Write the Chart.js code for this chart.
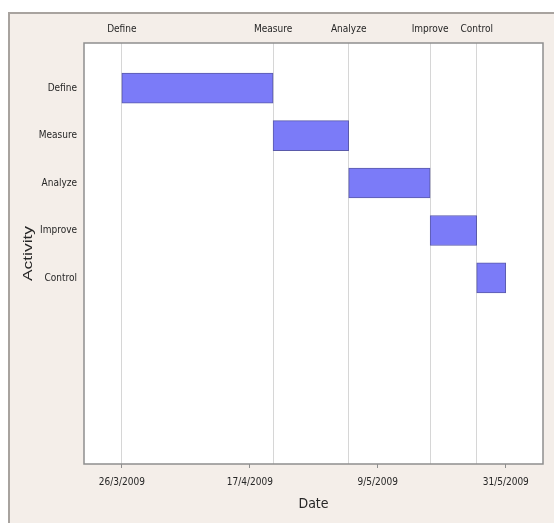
<!DOCTYPE html>
<html>
<head>
<meta charset="utf-8">
<title>Gantt chart – DMAIC</title>
<script src="https://cdn.jsdelivr.net/npm/chart.js@4.4.1/dist/chart.umd.min.js"></script>
<style>
  html, body { margin: 0; padding: 0; background: #ffffff; }
  #wrap { width: 554px; height: 528px; }
</style>
</head>
<body>
<div id="wrap"><canvas id="gantt" width="554" height="528"></canvas></div>
<script>
// Project phases and their scheduled dates (d/m/yyyy)
const activities = ['Define', 'Measure', 'Analyze', 'Improve', 'Control'];
const startDates = ['26/3/2009', '21/4/2009', '4/5/2009', '18/5/2009', '26/5/2009'];
const endDates   = ['21/4/2009', '4/5/2009', '18/5/2009', '26/5/2009', '31/5/2009'];
// Dates labelled along the bottom axis
const dateTicks  = ['26/3/2009', '17/4/2009', '9/5/2009', '31/5/2009'];

// d/m/yyyy -> whole days since the Unix epoch
function dayNum(s) {
  const [d, m, y] = s.split('/').map(Number);
  return Date.UTC(y, m - 1, d) / 86400000;
}

const firstDay = dayNum(startDates[0]);
const xMin = firstDay - 6.5;
const xMax = firstDay + 72.4;

const NARROW = "'Liberation Sans Narrow', 'DejaVu Sans Condensed', 'Liberation Sans', sans-serif";
const TEXT = '#262626';

const ganttData = activities.map((a, i) => ({
  x: [dayNum(startDates[i]), dayNum(endDates[i])],
  y: i
}));

// Beige panel behind the chart, white plot area and its frame
const framePlugin = {
  id: 'frame',
  beforeDraw(chart) {
    const ctx = chart.ctx;
    const a = chart.chartArea;
    ctx.save();
    ctx.fillStyle = '#f4eee9';
    ctx.fillRect(9, 13, 554 - 9, 523 - 13);
    ctx.strokeStyle = '#a8a39f';
    ctx.lineWidth = 2;
    ctx.beginPath();
    ctx.moveTo(9, 523);
    ctx.lineTo(9, 13);
    ctx.lineTo(554, 13);
    ctx.stroke();
    ctx.fillStyle = '#ffffff';
    ctx.fillRect(a.left, a.top, a.right - a.left, a.bottom - a.top);
    ctx.restore();
  },
  afterDraw(chart) {
    const ctx = chart.ctx;
    const a = chart.chartArea;
    ctx.save();
    ctx.strokeStyle = '#8e8e8e';
    ctx.lineWidth = 1.5;
    ctx.strokeRect(a.left, a.top, a.right - a.left, a.bottom - a.top);
    // y-axis title, drawn wide and rotated
    ctx.fillStyle = TEXT;
    ctx.font = "12px 'Liberation Sans', Arial, sans-serif";
    ctx.textAlign = 'center';
    ctx.textBaseline = 'middle';
    ctx.translate(29, (a.top + a.bottom) / 2);
    ctx.rotate(-Math.PI / 2);
    ctx.scale(1.45, 1);
    ctx.fillText('Activity', 0, 0);
    ctx.restore();
  }
};

new Chart(document.getElementById('gantt'), {
  type: 'bar',
  data: {
    datasets: [{
      label: 'Activity',
      data: ganttData,
      backgroundColor: '#7b7bf8',
      borderColor: '#5a5aaa',
      borderWidth: 1,
      borderSkipped: false,
      barThickness: 30,
      xAxisID: 'x',
      yAxisID: 'y'
    }]
  },
  options: {
    responsive: false,
    animation: false,
    indexAxis: 'y',
    layout: { padding: { left: 22, right: 11, top: 14, bottom: 15 } },
    plugins: {
      legend: { display: false },
      tooltip: { enabled: false }
    },
    scales: {
      x: {
        type: 'linear',
        position: 'bottom',
        offset: false,
        min: xMin,
        max: xMax,
        afterBuildTicks(scale) {
          scale.ticks = dateTicks.map(d => ({ value: dayNum(d) }));
        },
        afterFit(scale) { scale.height = 49; },
        ticks: {
          autoSkip: false,
          maxRotation: 0,
          padding: 8,
          color: TEXT,
          font: { family: NARROW, size: 10 },
          callback: (v, i) => dateTicks[i]
        },
        grid: {
          drawOnChartArea: false,
          drawTicks: true,
          tickLength: 4,
          color: '#8e8e8e'
        },
        border: { display: false },
        title: {
          display: true,
          text: 'Date',
          color: TEXT,
          padding: { top: 0, bottom: 0 },
          font: { family: NARROW, size: 14 }
        }
      },
      x2: {
        type: 'linear',
        position: 'top',
        offset: false,
        min: xMin,
        max: xMax,
        afterBuildTicks(scale) {
          scale.ticks = startDates.map(d => ({ value: dayNum(d) }));
        },
        afterFit(scale) { scale.height = 29; },
        ticks: {
          autoSkip: false,
          maxRotation: 0,
          padding: 8,
          color: TEXT,
          font: { family: NARROW, size: 10 },
          callback: (v, i) => activities[i]
        },
        grid: {
          drawOnChartArea: true,
          drawTicks: false,
          color: '#d6d6d6',
          lineWidth: 1
        },
        border: { display: false }
      },
      y: {
        type: 'linear',
        offset: false,
        reverse: true,
        min: -0.95,
        max: 7.92,
        afterBuildTicks(scale) {
          scale.ticks = activities.map((a, i) => ({ value: i }));
        },
        afterFit(scale) { scale.width = 62; },
        ticks: {
          autoSkip: false,
          padding: 7,
          color: TEXT,
          font: { family: NARROW, size: 10 },
          callback: (v, i) => activities[i]
        },
        grid: { display: false, drawTicks: false },
        border: { display: false }
      }
    }
  },
  plugins: [framePlugin]
});
</script>
</body>
</html>
